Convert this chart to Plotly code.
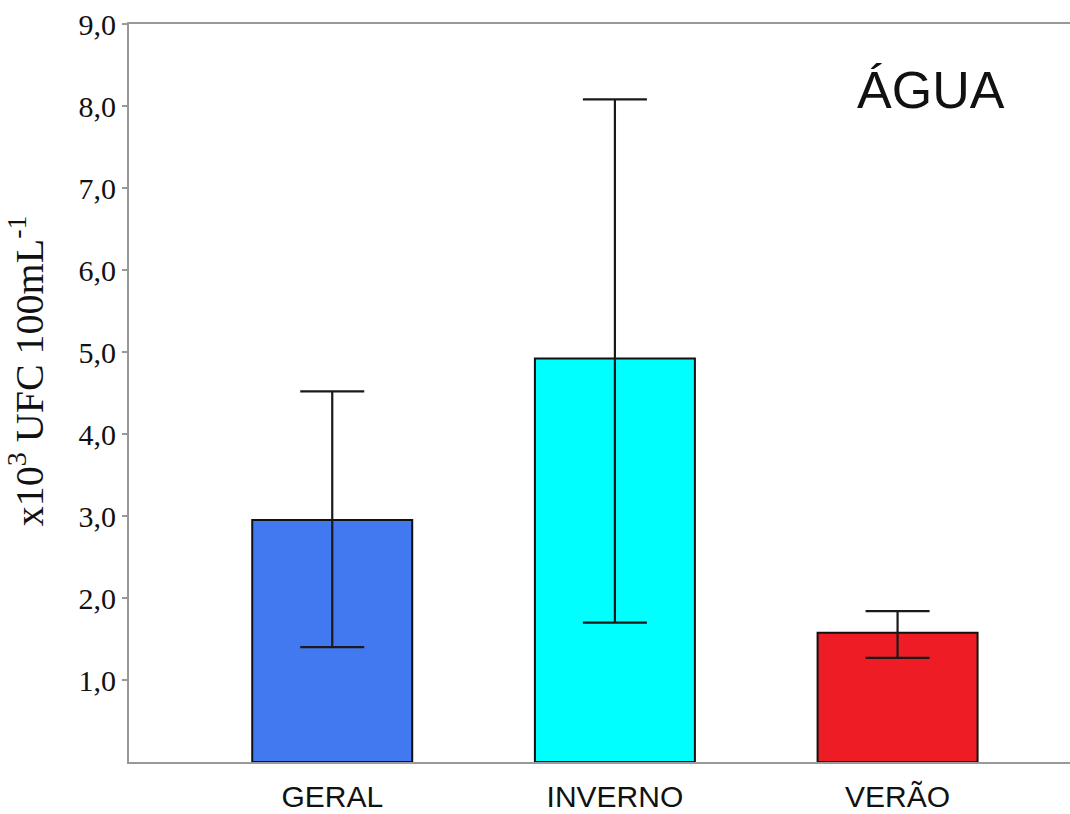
import plotly.graph_objects as go

categories = ["GERAL", "INVERNO", "VERÃO"]
means = [2.95, 4.92, 1.575]
upper = [4.52, 8.08, 1.84]
lower = [1.40, 1.70, 1.27]
colors = ["#4379F0", "#00FFFF", "#EE1C25"]
ytick_vals = [1, 2, 3, 4, 5, 6, 7, 8, 9]
ytick_text = ["1,0", "2,0", "3,0", "4,0", "5,0", "6,0", "7,0", "8,0", "9,0"]

err_plus = [u - m for u, m in zip(upper, means)]
err_minus = [m - l for m, l in zip(means, lower)]

fig = go.Figure()
fig.add_trace(go.Bar(
    x=[0, 1, 2],
    y=means,
    width=0.566,
    marker=dict(color=colors, line=dict(color="#111111", width=2)),
    error_y=dict(type="data", symmetric=False, array=err_plus, arrayminus=err_minus,
                 color="#1a1a1a", thickness=2.2, width=32),
    showlegend=False,
))

fig.update_layout(
    width=1070, height=814,
    margin=dict(l=129, r=0, t=24, b=52),
    paper_bgcolor="white", plot_bgcolor="white",
    xaxis=dict(
        range=[-0.719, 2.61],
        tickvals=[0, 1, 2], ticktext=categories,
        showline=True, linecolor="#999999", linewidth=2, mirror=True,
        ticks="", showgrid=False, zeroline=False,
        tickfont=dict(family="Liberation Sans, Arial", size=30, color="#111111"),
        ticklabelstandoff=7,
    ),
    yaxis=dict(
        range=[0, 9],
        tickvals=ytick_vals, ticktext=ytick_text,
        showline=True, linecolor="#999999", linewidth=2,
        ticks="outside", ticklen=5, tickcolor="#999999", tickwidth=1.5,
        showgrid=False, zeroline=False,
        tickfont=dict(family="Liberation Serif, Times New Roman", size=30, color="#111111"),
    ),
    annotations=[
        dict(text="x10<sup>3</sup> UFC 100mL<sup>-1</sup>", textangle=-90,
             xref="paper", yref="paper", x=-0.108, y=0.53, xanchor="center", yanchor="middle",
             showarrow=False, font=dict(family="Liberation Serif, Times New Roman", size=40, color="#111111")),
        dict(text="ÁGUA", xref="paper", yref="paper", x=0.852, y=0.911,
             xanchor="center", yanchor="middle", showarrow=False,
             font=dict(family="Liberation Sans, Arial", size=52, color="#111111")),
    ],
)

fig.write_html("out.html")
